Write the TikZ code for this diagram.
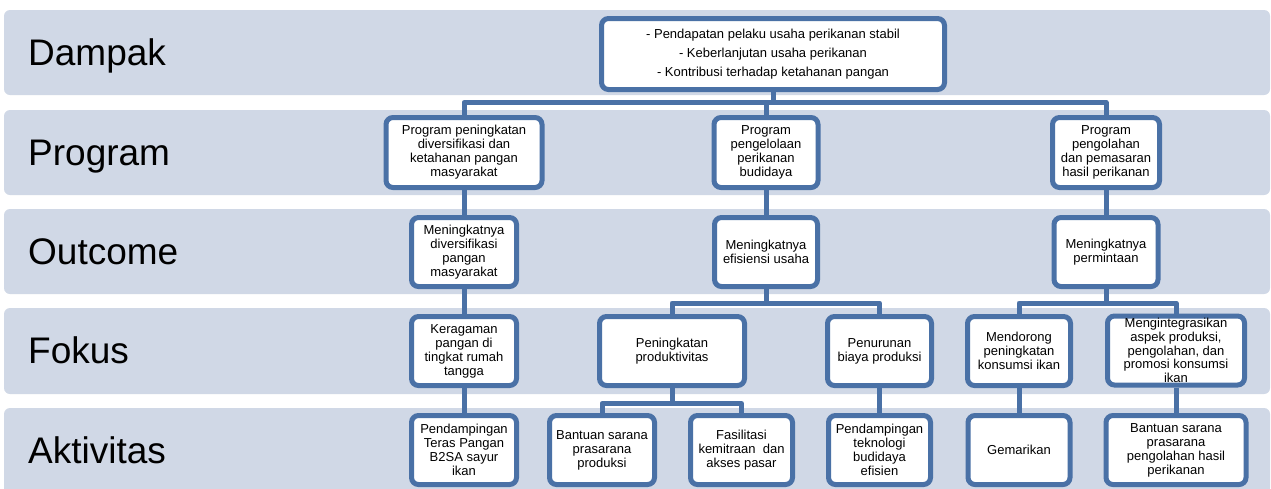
\documentclass[tikz,border=0pt]{standalone}
\usepackage{fontspec}
\setmainfont{Liberation Sans}
\definecolor{bandfill}{RGB}{208,216,230}
\definecolor{bluebord}{RGB}{74,113,166}
\tikzset{
  band/.style={fill=bandfill, draw=none, rounded corners=6pt},
  bandlabel/.style={anchor=base west, inner sep=0pt, font=\fontsize{37}{40}\selectfont},
  box/.style={draw=bluebord, line width=5pt, rounded corners=7pt, fill=white, inner sep=0pt,
              align=center, font=\fontsize{13}{14}\selectfont},
  conn/.style={draw=bluebord, line width=5pt, line join=round},
}
\begin{document}
\begin{tikzpicture}[x=1pt,y=-1pt]
\useasboundingbox (0,0) rectangle (1271,488);
\clip (0,0) rectangle (1271,488);
\fill[white] (0,0) rectangle (1271,488);
% bands
\path[band] (4,10) rectangle (1270,95);
\path[band] (4,110) rectangle (1270,195);
\path[band] (4,209) rectangle (1270,294);
\path[band] (4,308) rectangle (1270,394);
\path[band] (4,408) rectangle (1270,494);
\node[bandlabel] (lD) at (28,65) {Dampak};
\node[bandlabel] (lP) at (28,165) {Program};
\node[bandlabel] (lO) at (28,264) {Outcome};
\node[bandlabel] (lF) at (28,363.5) {Fokus};
\node[bandlabel] (lA) at (28,463) {Aktivitas};
% bus coordinates
\coordinate (bus1) at (0,102.5);
\coordinate (bus2) at (0,303);
\coordinate (bus3) at (0,403.5);
% top connectors (drawn first so boxes sit on top)
\coordinate (dS) at (773,90);
\coordinate (p1N) at (464,118);
\coordinate (p2N) at (766,118);
\coordinate (p3N) at (1106,118);
\draw[conn] (dS) -- (dS |- bus1);
\draw[conn] (p1N) |- (p3N |- bus1) -- (p3N);
\draw[conn] (p2N) -- (p2N |- bus1);
% boxes
\node[box, minimum width=343pt, minimum height=71pt, font=\fontsize{13}{19}\selectfont] (d) at (773,54)
  {- Pendapatan pelaku usaha perikanan stabil\\- Keberlanjutan usaha perikanan\\- Kontribusi terhadap ketahanan pangan};
\node[box, minimum width=156pt, minimum height=70pt] (p1) at (464,152.5)
  {Program peningkatan\\diversifikasi dan\\ketahanan pangan\\masyarakat};
\node[box, minimum width=104pt, minimum height=70pt] (p2) at (766,152.5)
  {Program\\pengelolaan\\perikanan\\budidaya};
\node[box, minimum width=107pt, minimum height=70pt] (p3) at (1106,152.5)
  {Program\\pengolahan\\dan pemasaran\\hasil perikanan};
\node[box, minimum width=105pt, minimum height=69pt] (o1) at (464,252)
  {Meningkatnya\\diversifikasi\\pangan\\masyarakat};
\node[box, minimum width=103pt, minimum height=69pt] (o2) at (766,252)
  {Meningkatnya\\efisiensi usaha};
\node[box, minimum width=104pt, minimum height=69pt] (o3) at (1106,252)
  {Meningkatnya\\permintaan};
\node[box, minimum width=105pt, minimum height=69pt] (f1) at (464,351)
  {Keragaman\\pangan di\\tingkat rumah\\tangga};
\node[box, minimum width=145pt, minimum height=69pt] (f2) at (672,351)
  {Peningkatan\\produktivitas};
\node[box, minimum width=104pt, minimum height=69pt] (f3) at (879.5,351)
  {Penurunan\\biaya produksi};
\node[box, minimum width=103pt, minimum height=69pt] (f4) at (1019,351)
  {Mendorong\\peningkatan\\konsumsi ikan};
\node[box, minimum width=137pt, minimum height=69pt, font=\fontsize{13}{13.6}\selectfont] (f5) at (1176,350.5)
  {Mengintegrasikan\\aspek produksi,\\pengolahan, dan\\promosi konsumsi\\ikan};
\node[box, minimum width=105pt, minimum height=69pt] (a1) at (464,450)
  {Pendampingan\\Teras Pangan\\B2SA sayur\\ikan};
\node[box, minimum width=105pt, minimum height=69pt] (a2) at (602,450)
  {Bantuan sarana\\prasarana\\produksi};
\node[box, minimum width=102pt, minimum height=69pt] (a3) at (741.5,450)
  {Fasilitasi\\kemitraan\ \ dan\\akses pasar};
\node[box, minimum width=102pt, minimum height=69pt] (a4) at (879.5,450)
  {Pendampingan\\teknologi\\budidaya\\efisien};
\node[box, minimum width=102pt, minimum height=69pt] (a5) at (1019,450)
  {Gemarikan};
\node[box, minimum width=140pt, minimum height=69pt] (a6) at (1176,450)
  {Bantuan sarana\\prasarana\\pengolahan hasil\\perikanan};
% lower connectors
\draw[conn] (p1.south) -- (o1.north);
\draw[conn] (p2.south) -- (o2.north);
\draw[conn] (p3.south) -- (o3.north);
\draw[conn] (o1.south) -- (f1.north);
\draw[conn] (o2.south) -- (o2.south |- bus2);
\draw[conn] (f2.north) |- (f3.north |- bus2) -- (f3.north);
\draw[conn] (o3.south) -- (o3.south |- bus2);
\draw[conn] (f4.north) |- (f5.north |- bus2) -- (f5.north);
\draw[conn] (f1.south) -- (a1.north);
\draw[conn] (f2.south) -- (f2.south |- bus3);
\draw[conn] (a2.north) |- (a3.north |- bus3) -- (a3.north);
\draw[conn] (f3.south) -- (a4.north);
\draw[conn] (f4.south) -- (a5.north);
\draw[conn] (f5.south) -- (a6.north);
\end{tikzpicture}
\end{document}
